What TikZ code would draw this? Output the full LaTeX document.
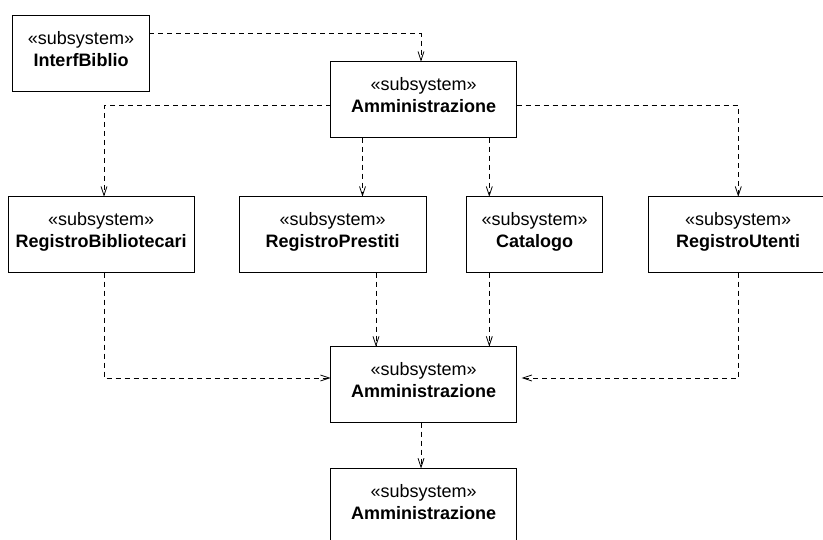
\documentclass[tikz,border=0pt]{standalone}
\usepackage{fontspec}
\setmainfont{Liberation Sans}
\usetikzlibrary{arrows.meta}

\tikzset{
  subsys/.style={draw, line width=0.9pt, rectangle, inner sep=0pt, outer sep=0pt,
                 minimum height=76pt},
  stereo/.style={anchor=base, inner sep=0pt, font=\fontsize{18}{21.6}\selectfont},
  sysname/.style={anchor=base, inner sep=0pt, font=\fontsize{18}{21.6}\selectfont\bfseries},
  dep/.style={line width=0.8pt, dash pattern=on 5pt off 4pt,
              -{Straight Barb[length=9pt,width=6pt,line width=0.8pt]}}
}

% a subsystem box with its stereotype and name
\newcommand{\subsysbox}[5]{%
  \node[subsys, minimum width=#4pt] (#1) at (#2,#3) {};
  \node[stereo] (#1-s) at ([yshift=-29pt]#1.north) {«subsystem»};
  \node[sysname] (#1-n) at ([yshift=-51.3pt]#1.north) {#5};
}

\begin{document}
\begin{tikzpicture}[x=1pt, y=-1pt]
  \fill[white] (0,0) rectangle (823,540);
  \useasboundingbox (0,0) rectangle (823,540);
  \clip (0,0) rectangle (823,540);

  \subsysbox{ib}{81}{53.4}{136.6}{InterfBiblio}
  \subsysbox{a1}{423.7}{99.7}{186}{Amministrazione}
  \subsysbox{rb}{101.2}{234.7}{185.7}{RegistroBibliotecari}
  \subsysbox{rp}{332.7}{234.7}{186.7}{RegistroPrestiti}
  \subsysbox{ca}{534.7}{234.7}{136}{Catalogo}
  \subsysbox{ru}{738.2}{234.7}{179.7}{RegistroUtenti}
  \subsysbox{a2}{423.7}{384.6}{186}{Amministrazione}
  \subsysbox{a3}{423.7}{506.5}{186}{Amministrazione}

  % routing levels and columns of the dependencies
  \coordinate (k1) at (421,33.3);
  \coordinate (ya) at (0,105.7);
  \coordinate (ym) at (0,378);
  \coordinate (xb) at (104,0);
  \coordinate (xp) at (362.5,0);
  \coordinate (xc) at (489.3,0);
  \coordinate (xu) at (738.3,0);
  \coordinate (xr) at (376,0);
  \coordinate (xm) at (421,0);

  \draw[dep] (ib.east |- k1) -- (k1) -- (k1 |- a1.north);
  \draw[dep] (a1.west |- ya) -| (xb |- rb.north);
  \draw[dep] (xp |- a1.south) -- (xp |- rp.north);
  \draw[dep] (xc |- a1.south) -- (xc |- ca.north);
  \draw[dep] (a1.east |- ya) -| (xu |- ru.north);

  \draw[dep] (xb |- rb.south) |- (a2.west |- ym);
  \draw[dep] (xr |- rp.south) -- (xr |- a2.north);
  \draw[dep] (xc |- ca.south) -- (xc |- a2.north);
  \draw[dep, shorten >=5pt] (xu |- ru.south) |- (a2.east |- ym);

  \draw[dep] (xm |- a2.south) -- (xm |- a3.north);
\end{tikzpicture}
\end{document}
